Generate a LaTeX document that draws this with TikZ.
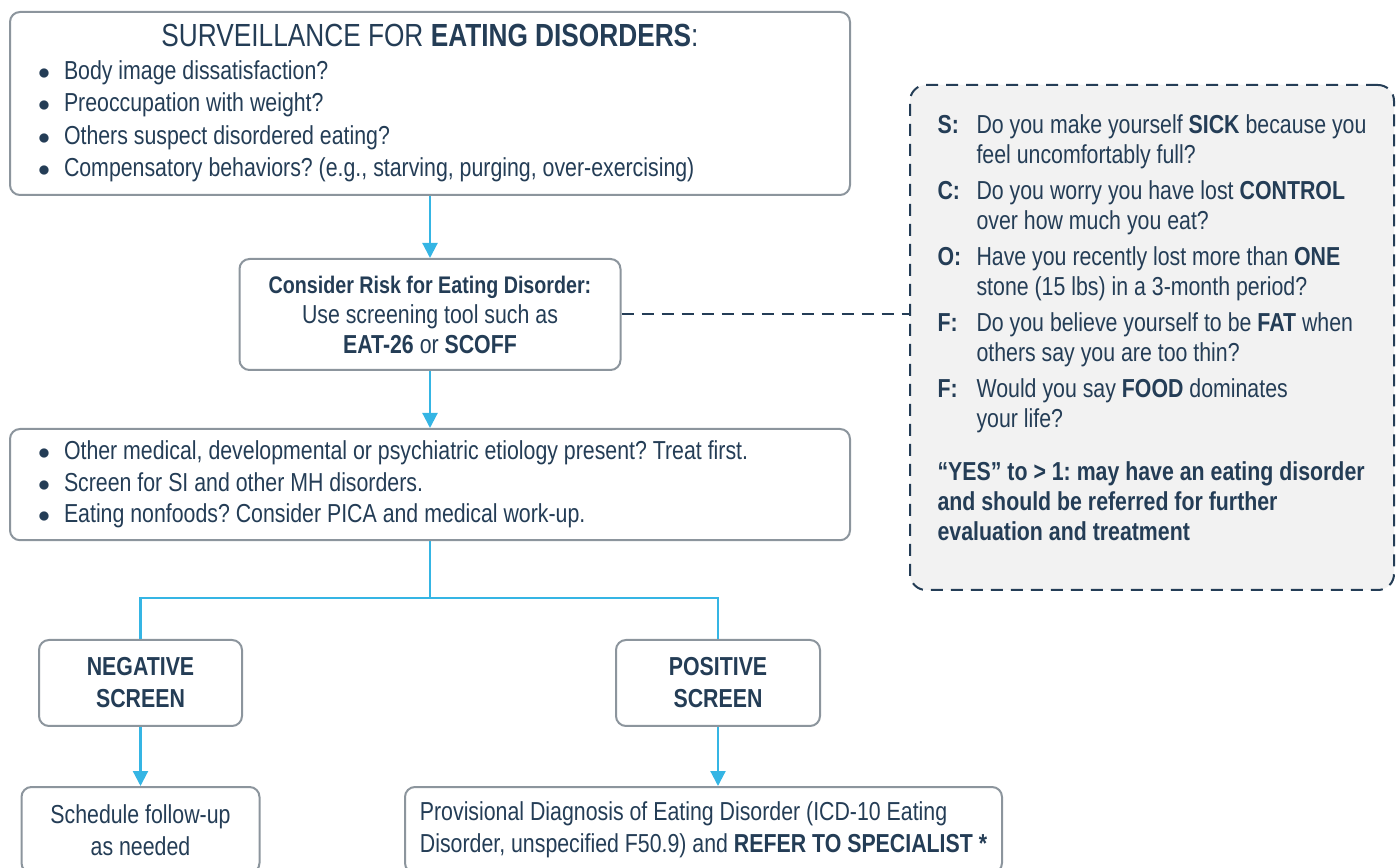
\documentclass[tikz,border=0pt]{standalone}
\usepackage{fontspec}
\setmainfont{Liberation Sans}[FakeStretch=0.82]
\usepackage{tikz}
\usetikzlibrary{positioning, arrows.meta}
\frenchspacing

\definecolor{SlateNavy}{HTML}{243D56}
\definecolor{BoxGrey}{HTML}{8C959D}
\definecolor{SkyArrow}{HTML}{35B5E4}
\definecolor{NoteGrey}{HTML}{F2F2F2}

\newcommand{\bitem}{\makebox[21pt][l]{\hspace{8pt}$\bullet$}}
\newcommand{\qlabel}[1]{\makebox[19.5pt][l]{\textbf{#1}}}

\begin{document}
\begin{tikzpicture}[
    >={Triangle[width=7.5pt,length=7.5pt]},
    box/.style={draw=BoxGrey, line width=1pt, rounded corners=5pt, fill=white, text=SlateNavy, inner sep=6pt, font=\fontsize{13}{16}\selectfont},
    link/.style={draw=SkyArrow, line width=1.1pt},
    hint/.style={draw=SlateNavy, line width=1pt, dash pattern=on 6pt off 4pt}]

    \useasboundingbox (0,0) rectangle (698pt,433.5pt);

    \node at (215pt,381.75pt) [box, minimum width=420pt, minimum height=91.5pt, text width=408pt, align=flush left, font=\fontsize{13}{16.25}\selectfont] (surv) {\makebox[408pt][c]{\fontsize{16}{16}\selectfont SURVEILLANCE FOR \textbf{EATING DISORDERS}:}\\
        \bitem Body image dissatisfaction?\\
        \bitem Preoccupation with weight?\\
        \bitem Others suspect disordered eating?\\
        \bitem Compensatory behaviors? (e.g., starving, purging, over-exercising)};
    \node [box, below=31pt of surv, minimum width=190.5pt, minimum height=55.5pt, align=center, font=\fontsize{13}{15}\selectfont] (risk) {{\fontsize{12}{15}\selectfont\bfseries Consider Risk for Eating Disorder:}\\ Use screening tool such as\\ \textbf{EAT-26} or \textbf{SCOFF}};
    \node [box, below=28.5pt of risk, minimum width=420pt, minimum height=55pt, text width=408pt, align=flush left, font=\fontsize{13}{15.75}\selectfont] (medical) {\bitem Other medical, developmental or psychiatric etiology present? Treat first.\\
        \bitem Screen for SI and other MH disorders.\\
        \bitem Eating nonfoods? Consider PICA and medical work-up.};

    \node at (576pt,264.75pt) [box, hint, fill=NoteGrey, rounded corners=8pt, minimum width=242pt, minimum height=252.5pt, align=left, font=\fontsize{13}{15}\selectfont] (scoff) {\qlabel{S:}Do you make yourself \textbf{SICK} because you\\
        \hspace*{19.5pt}feel uncomfortably full?\\[3pt]
        \qlabel{C:}Do you worry you have lost \textbf{CONTROL}\\
        \hspace*{19.5pt}over how much you eat?\\[3pt]
        \qlabel{O:}Have you recently lost more than \textbf{ONE}\\
        \hspace*{19.5pt}stone (15 lbs) in a 3-month period?\\[3pt]
        \qlabel{F:}Do you believe yourself to be \textbf{FAT} when\\
        \hspace*{19.5pt}others say you are too thin?\\[3pt]
        \qlabel{F:}Would you say \textbf{FOOD} dominates\\
        \hspace*{19.5pt}your life?\\[11.5pt]
        \textbf{“YES” to > 1: may have an eating disorder}\\
        \textbf{and should be referred for further}\\
        \textbf{evaluation and treatment}\\[-5pt]
        \mbox{}};

    \node at (70.25pt,92pt) [box, minimum width=101.5pt, minimum height=43pt, align=center, font=\bfseries\fontsize{13}{16}\selectfont] (neg) {NEGATIVE\\ SCREEN};
    \node [box, right=186pt of neg, minimum width=102pt, minimum height=43pt, align=center, font=\bfseries\fontsize{13}{16}\selectfont] (pos) {POSITIVE\\ SCREEN};
    \node [box, below=29.5pt of neg, minimum width=119pt, minimum height=43pt, align=center] (follow) {Schedule follow-up\\ as needed};
    \node [box, below=29.5pt of pos, xshift=-7.25pt, minimum width=298.5pt, minimum height=43pt, align=left] (diag) {Provisional Diagnosis of Eating Disorder (ICD-10 Eating\\ Disorder, unspecified F50.9) and \textbf{REFER TO SPECIALIST *}};

    \draw [link, ->] (risk.north |- surv.south) -- (risk);
    \draw [link, ->] (risk) -- (medical);
    \draw [hint] (risk) -- (risk -| scoff.west);
    \coordinate [below=28.5pt of medical] (split);
    \draw [link] (medical) -- (split);
    \draw [link] (neg) |- (split) -| (pos);
    \draw [link, ->] (neg) -- (neg |- follow.north);
    \draw [link, ->] (pos) -- (pos |- diag.north);

\end{tikzpicture}
\end{document}
